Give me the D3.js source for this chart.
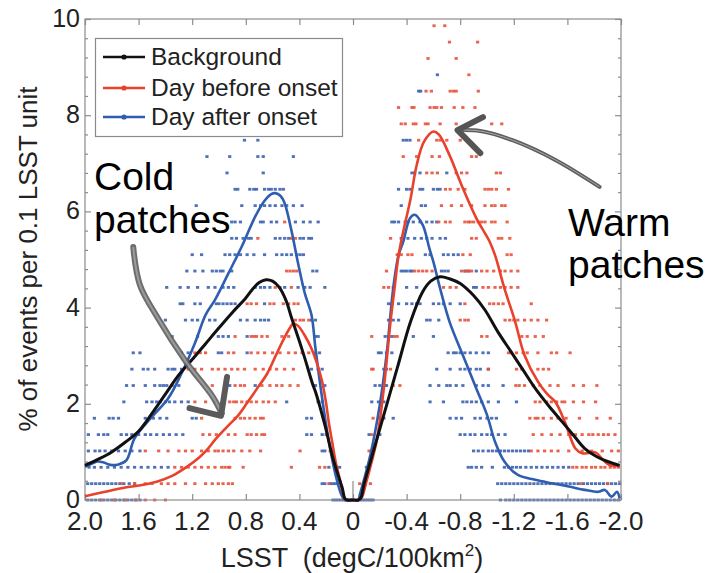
<!DOCTYPE html>
<html><head><meta charset="utf-8">
<script src="https://cdn.jsdelivr.net/npm/d3@7"></script>
<style>
body{margin:0;background:#fff;}
text{font-family:"Liberation Sans",Arial,sans-serif;fill:#222;}
</style></head>
<body><svg id="chart" width="715" height="573"></svg>
<script>
// ---------------- DATA ----------------
const xTicks = [2.0,1.6,1.2,0.8,0.4,0,-0.4,-0.8,-1.2,-1.6,-2.0];
const xTickLabels = ["2.0","1.6","1.2","0.8","0.4","0","-0.4","-0.8","-1.2","-1.6","-2.0"];
const yTicks = [0,2,4,6,8,10];
const yTickLabels = ["0","2","4","6","8","10"];
const yMinorTicks = [0.4,0.8,1.2,1.6,2.4,2.8,3.2,3.6,4.4,4.8,5.2,5.6,6.4,6.8,7.2,7.6,8.4,8.8,9.2,9.6];
const seriesNames = ["Background","Day before onset","Day after onset"];
const seriesColors = ["#111111","#e8412c","#2f5db0"];

// Background curve
const bgX = [2.0,1.9,1.8,1.7,1.6,1.5,1.4,1.3,1.2,1.1,1.0,0.9,0.8,0.75,0.7,0.65,0.6,0.55,0.5,0.46,0.4,0.36,0.3,0.28,0.21,0.15,0.1,0.08,0.06,0.04,0,-0.04,-0.06,-0.08,-0.13,-0.23,-0.33,-0.43,-0.52,-0.58,-0.65,-0.72,-0.8,-0.9,-0.985,-1.08,-1.18,-1.27,-1.36,-1.46,-1.56,-1.65,-1.73,-1.82,-1.9,-1.99];
const bgY = [0.72,0.85,1.0,1.2,1.43,1.8,2.2,2.6,2.92,3.25,3.58,3.9,4.2,4.38,4.52,4.58,4.55,4.42,4.15,3.8,3.3,2.95,2.4,2.25,1.56,0.87,0.42,0.25,0.03,0,0,0,0.05,0.3,0.8,1.77,2.74,3.71,4.33,4.55,4.64,4.6,4.5,4.25,3.95,3.5,3.08,2.7,2.32,1.96,1.63,1.33,1.07,0.9,0.8,0.72];
// Day before onset curve
const redX = [2.0,1.85,1.7,1.6,1.465,1.35,1.24,1.15,1.09,1.03,0.94,0.86,0.79,0.72,0.64,0.58,0.52,0.47,0.445,0.41,0.36,0.31,0.27,0.23,0.2,0.18,0.155,0.13,0.1,0.08,0.06,0.04,0,-0.04,-0.065,-0.1,-0.14,-0.18,-0.23,-0.28,-0.31,-0.34,-0.375,-0.43,-0.475,-0.53,-0.6,-0.64,-0.72,-0.82,-0.92,-1.02,-1.06,-1.13,-1.21,-1.28,-1.38,-1.45,-1.51,-1.58,-1.66,-1.71,-1.76,-1.81,-1.86,-1.91,-1.99];
const redY = [0.08,0.17,0.26,0.3,0.38,0.5,0.69,0.88,1.04,1.25,1.52,1.75,2.02,2.3,2.63,2.98,3.33,3.58,3.67,3.62,3.42,3.15,2.85,2.46,2.0,1.6,1.2,0.8,0.45,0.2,0.02,0,0,0,0.05,0.38,0.8,1.28,2.32,3.71,4.4,5.09,5.58,6.27,6.96,7.45,7.66,7.6,7.17,6.48,5.86,5.37,5.09,4.4,3.71,3.01,2.46,2.2,2.04,1.63,1.07,0.97,0.98,0.99,0.85,0.73,0.71];
// Day after onset curve
const blueX = [2.0,1.95,1.91,1.86,1.81,1.75,1.69,1.63,1.5,1.38,1.28,1.18,1.1,1.03,0.93,0.83,0.73,0.66,0.61,0.58,0.54,0.51,0.46,0.41,0.36,0.31,0.28,0.23,0.18,0.13,0.085,0.06,0,-0.04,-0.05,-0.13,-0.2,-0.25,-0.3,-0.34,-0.375,-0.425,-0.46,-0.52,-0.57,-0.6,-0.65,-0.72,-0.82,-0.92,-1.0,-1.06,-1.13,-1.23,-1.36,-1.48,-1.61,-1.73,-1.83,-1.88,-1.93,-1.97,-1.99];
const blueY = [0.69,0.75,0.8,0.78,0.73,0.74,0.83,1.28,1.73,2.11,2.63,3.26,3.85,4.16,4.71,5.27,5.89,6.22,6.36,6.38,6.32,6.17,5.61,4.92,4.3,3.85,3.15,2.11,1.21,0.52,0.1,0,0,0,0.1,0.94,1.98,3.01,4.4,5.09,5.37,5.86,5.93,5.72,5.23,4.95,4.4,3.71,3.01,2.32,1.77,1.21,0.8,0.52,0.42,0.35,0.28,0.21,0.17,0.21,0.07,0.17,0.03];

// Scatter levels (% values of the quantised individual-event histograms)
const dotLevels = [0,0.34,0.68,1.02,1.36,1.70,2.04,2.38,2.72,3.06,3.40,3.74,4.08,4.42,4.76,5.10,5.44,5.78,6.12,6.46,6.80,7.14,7.48,7.82,8.16,8.50,8.84,9.18,9.52,9.86];
// LSST positions of the blue (day after onset) dots, one string per level
const blueDotRows = [
"1.98 1.95 1.92 1.89 1.86 1.83 1.80 1.77 1.74 1.71 1.68 1.65 1.62 1.59 0.15 0.13 0.11 0.09 0.07 0.05 0.03 0.01 -0.01 -0.03 -0.05 -0.07 -0.09 -0.11 -0.13 -0.15 -1.10 -1.14 -1.17 -1.20 -1.23 -1.26 -1.29 -1.32 -1.35 -1.38 -1.41 -1.44 -1.47 -1.50 -1.53 -1.56 -1.59 -1.62 -1.65 -1.68 -1.71 -1.74 -1.77 -1.80 -1.83 -1.86 -1.89 -1.92 -1.95 -1.98",
"1.98 1.95 1.92 1.89 1.86 1.83 1.80 1.77 1.74 1.71 1.67 1.63 0.23 0.21 0.17 0.15 0.13 -1.08 -1.11 -1.14 -1.17 -1.20 -1.23 -1.26 -1.29 -1.32 -1.35 -1.38 -1.41 -1.44 -1.47 -1.50 -1.53 -1.56 -1.59 -1.62 -1.65 -1.68 -1.72 -1.75 -1.78 -1.81 -1.84 -1.87 -1.90 -1.93 -1.96 -1.99",
"1.97 1.93 1.88 1.83 1.78 1.73 1.68 1.63 1.58 1.53 1.48 1.43 1.38 0.18 0.13 0.10 -0.10 -0.86 -0.885 -0.92 -0.96 -1.04 -1.13 -1.16 -1.19 -1.22 -1.25 -1.29 -1.33 -1.37 -1.41 -1.45 -1.49 -1.53 -1.57 -1.61",
"1.975 1.925 1.89 1.85 1.80 1.75 1.70 1.65 1.59 0.23 0.21 0.15 -0.90 -0.935 -0.97 -1.01 -1.04 -1.07 -1.10 -1.13 -1.16 -1.19 -1.22 -1.25 -1.28 -1.31",
"1.975 1.90 1.86 1.83 1.73 1.69 1.65 1.60 1.55 1.51 1.465 1.415 1.37 1.32 1.27 0.345 0.31 0.23 0.20 -0.12 -0.20 -0.80 -0.835 -0.875 -0.91 -0.96 -1.00 -1.035 -1.085 -1.135",
"1.93 1.82 1.79 1.75 1.55 1.49 1.44 1.39 1.20 1.17 0.345 0.31 0.22 -0.20 -0.23 -0.30 -0.725 -0.77 -0.81 -0.91 -0.95 -1.00 -1.035 -1.07",
"1.71 1.54 1.50 1.465 1.44 1.40 1.37 1.33 1.28 1.23 0.495 0.26 0.23 -0.14 -0.19 -0.23 -0.575 -0.675 -0.82 -0.85 -0.885 -0.92 -0.96 -1.01 -1.085 -1.22",
"1.69 1.64 1.55 1.48 1.44 1.415 1.39 1.35 1.30 0.94 0.92 0.73 0.28 0.21 -0.165 -0.20 -0.24 -0.25 -0.575 -0.64 -0.70 -0.725 -0.77 -0.82 -0.92 -0.97 -1.01 -1.12",
"1.65 1.565 1.53 1.48 1.38 1.35 1.33 1.28 0.31 0.26 0.23 -0.23 -0.25 -0.625 -0.725 -0.80 -0.835 -0.875 -0.92 -0.95 -1.01",
"1.64 1.59 1.28 1.23 1.005 0.98 0.79 0.28 0.25 -0.19 -0.21 -0.25 -0.29 -0.71 -0.75 -0.77 -0.80 -0.835 -0.875 -0.92 -0.97 -1.01",
"1.35 1.16 1.005 0.97 0.93 0.79 0.28 0.26 -0.24 -0.265 -0.29 -0.45 -0.60",
"1.40 1.25 1.20 1.16 1.07 1.03 0.84 0.79 0.73 0.69 0.66 0.63 0.31 0.28 -0.265 -0.30 -0.34 -0.55 -0.575 -0.64",
"1.29 1.27 1.18 1.14 1.02 1.00 0.97 0.94 0.91 0.88 0.66 -0.265 -0.29 -0.34 -0.40 -0.44 -0.475 -0.50 -0.60 -0.64 -0.675 -0.725 -0.80",
"1.39 1.29 1.23 1.16 1.08 1.03 0.97 0.93 0.89 0.73 0.69 0.66 0.62 0.545 0.51 0.41 0.36 0.32 0.21 -0.40 -0.475 -0.90 -0.92",
"1.24 1.18 1.12 1.05 1.02 0.99 0.97 0.905 0.30 0.27 -0.36 -0.38 -0.40 -0.425 -0.44 -0.66 -0.685 -0.71 -0.835 -0.86 -0.92",
"1.20 1.13 0.955 0.92 0.88 0.84 0.79 0.74 0.66 0.57 0.53 0.495 0.46 0.42 0.395 0.37 -0.54 -0.575 -0.675 -0.71 -0.75 -0.785",
"0.905 0.87 0.82 0.78 0.76 0.58 0.545 0.51 0.48 0.395 0.37 0.33 0.31 -0.36 -0.41 -0.46 -0.51 -0.55 -0.59 -0.65 -0.69",
"0.905 0.88 0.84 0.69 0.67 0.61 0.57 0.43 0.37 0.32 0.26 -0.29 -0.31 -0.34 -0.39 -0.41 -0.45 -0.50 -0.55 -0.59 -0.625",
"1.17 0.83 0.73 0.69 0.66 0.62 0.58 0.53 0.495 0.445 0.38 -0.36 -0.51 -0.54",
"0.88 0.86 0.77 0.74 0.72 0.66 0.63 0.61 0.58 0.545 0.52 -0.34 -0.40 -0.425 -0.50 -0.52 -0.60 -0.63 -0.65",
"0.94 0.67 -0.44 -0.46 -0.50 -0.70",
"1.09 0.92 0.71 0.67 0.445",
"0.81 0.71 -0.375 -0.40 -0.425",
"", "",
"-0.49 -0.505",
"-0.63",
"", "", ""
];
// LSST positions of the red (day before onset) dots, one string per level
const redDotRows = [
"1.88 1.78 1.70 1.62 1.55 1.48 1.40",
"1.73 1.63 1.55 1.50 1.43 1.38 1.33 1.25 1.18 1.10 1.05 1.005 0.97 0.93 0.90 0.18 -0.05 -0.09 -0.13 -1.70 -1.90",
"1.33 1.28 1.23 1.18 1.13 1.08 1.03 0.98 0.955 0.93 0.92 0.82 0.46 0.25 0.21 -1.64 -1.67 -1.71 -1.74 -1.78 -1.81 -1.85 -1.88 -1.92 -1.95 -1.98",
"1.55 1.45 1.38 1.30 1.25 1.20 1.13 1.08 1.03 1.005 0.97 0.93 0.89 0.83 0.77 0.69 0.395 0.17 -0.12 -1.33 -1.38 -1.43 -1.48 -1.53 -1.61 -1.71 -1.78 -1.86 -1.93 -1.98",
"1.12 1.07 1.02 0.93 0.88 0.79 0.76 0.72 0.68 0.66 -0.14 -1.345 -1.41 -1.48 -1.545 -1.61 -1.63 -1.66 -1.71 -1.76 -1.79 -1.83 -1.87 -1.905 -1.955",
"1.13 0.88 0.84 0.81 0.77 0.73 0.69 0.67 -0.15 -1.32 -1.36 -1.38 -1.42 -1.48 -1.53 -1.59 -1.69 -1.82 -1.92",
"1.18 1.10 1.03 0.92 0.89 0.87 0.83 0.79 0.76 0.72 0.67 0.63 0.58 -1.36 -1.395 -1.445 -1.48 -1.52 -1.56 -1.58 -1.645 -1.72 -1.81",
"1.05 0.88 0.84 0.81 0.68 0.62 0.57 0.53 0.47 0.41 -0.30 -0.35 -1.215 -1.24 -1.28 -1.345 -1.395 -1.47 -1.53 -1.645 -1.72 -1.82",
"1.23 1.18 1.13 1.05 1.005 0.955 0.905 0.86 0.81 0.73 0.67 0.62 0.57 0.51 0.445 -0.14 -0.15 -0.28 -1.01 -1.22 -1.26 -1.38 -1.42 -1.46",
"1.18 1.14 1.10 0.93 0.89 0.76 0.71 0.66 0.60 0.545 0.48 0.43 0.38 0.33 -1.16 -1.18 -1.22 -1.27 -1.30 -1.38 -1.48 -1.52 -1.62",
"0.88 0.76 0.74 0.72 0.68 0.64 0.53 0.48 -0.14 -0.31 -0.33 -0.96 -1.00 -1.26 -1.30 -1.36 -1.42",
"0.43 0.395 0.37 0.33 -0.80 -0.835 -0.86 -1.135 -1.17 -1.20 -1.23 -1.28 -1.33 -1.38 -1.445",
"0.79 0.76 0.72 0.62 0.59 0.52 0.48 0.44 0.41 -0.835 -1.02 -1.05 -1.085 -1.12 -1.33",
"0.58 0.46 -0.23 -0.265 -0.30 -0.675 -0.725 -0.77 -0.97 -1.01 -1.06 -1.10 -1.135 -1.18 -1.23",
"0.495 0.47 0.445 0.42 -0.25 -0.46 -0.49 -0.52 -0.55 -0.59 -0.81 -0.84 -0.865 -0.885 -0.96 -1.00 -1.05 -1.10 -1.135 -1.18 -1.23",
"-0.33 -0.36 -0.41 -0.44 -0.82 -0.875 -1.15 -1.18",
"0.71 0.46 0.43 -0.28 -0.885 -0.92 -1.085 -1.11 -1.17",
"0.51 -0.64 -0.69 -0.725 -0.835 -0.86 -0.875 -0.90 -0.935 -0.96 -0.985 -1.035 -1.06 -1.15",
"-0.66 -0.735 -0.81 -0.885 -0.985 -1.035 -1.06 -1.11 -1.135",
"-0.69 -0.725 -0.785 -0.835 -0.985 -1.01 -1.035 -1.07 -1.16",
"-0.55 -0.59 -0.63 -0.77 -0.81 -0.85 -1.07 -1.10",
"-0.375 -0.475 -0.59 -0.645 -0.885 -0.92",
"-0.49 -0.625 -0.65 -0.70 -0.80",
"-0.36 -0.39 -0.45 -0.47 -0.54 -0.56 -0.65 -0.77 -1.035 -1.11",
"-0.34 -0.44 -0.455 -0.575 -0.605 -0.625 -0.66 -0.755 -0.82 -0.91",
"-0.545 -0.585 -0.725 -0.75 -0.77 -0.935",
"-0.865",
"-0.56 -0.77",
"-0.72 -0.93",
"-0.605 -0.685"
];
// Annotation arrows, in data units (LSST, %)
const coldArrowShaft = [[1.64,5.26],[1.59,4.47],[1.46,3.80],[1.24,2.85],[1.045,2.14],[0.98,1.80]];
const coldArrowHead = [[0.94,2.56],[0.985,1.75],[1.22,1.91]];
const warmArrowShaft = [[-1.84,6.51],[-1.51,7.07],[-1.19,7.48],[-0.95,7.67],[-0.79,7.69]];
const warmArrowHead = [[-0.97,7.96],[-0.78,7.69],[-0.95,7.21]];

// ---------------- DRAW ----------------
const svg = d3.select("#chart");
svg.append("rect").attr("width",715).attr("height",573).attr("fill","#fff");
const x = d3.scaleLinear().domain([2,-2]).range([85,621]);
const y = d3.scaleLinear().domain([0,10]).range([500,19]);
const axisColor = "#8c8c8c";

// scatter dots
function rowsToPoints(rows){
  const pts=[];
  rows.forEach((s,k)=>{ s.split(/\s+/).filter(t=>t.length).forEach(v=>pts.push({x:+v,y:dotLevels[k]})); });
  return pts;
}
const gDots = svg.append("g");
gDots.selectAll("rect.b").data(rowsToPoints(blueDotRows)).join("rect")
  .attr("x",d=>x(d.x)-1.6).attr("y",d=>y(d.y)-1.4).attr("width",3.2).attr("height",2.8)
  .attr("fill","#3c62b3").attr("opacity",0.9);
gDots.selectAll("rect.r").data(rowsToPoints(redDotRows)).join("rect")
  .attr("x",d=>x(d.x)-1.6).attr("y",d=>y(d.y)-1.4).attr("width",3.2).attr("height",2.8)
  .attr("fill","#e8523c").attr("opacity",0.9);

// frame and ticks
svg.append("rect").attr("x",x(2)).attr("y",y(10)).attr("width",x(-2)-x(2)).attr("height",y(0)-y(10))
  .attr("fill","none").attr("stroke",axisColor).attr("stroke-width",1.2);
function styleAxis(g){ g.select(".domain").remove(); g.selectAll("line").attr("stroke",axisColor).attr("stroke-width",1.2); g.selectAll("text").remove(); }
svg.append("g").attr("transform",`translate(0,${y(0)})`).call(d3.axisBottom(x).tickValues(xTicks).tickSize(-6)).call(styleAxis);
svg.append("g").attr("transform",`translate(0,${y(10)})`).call(d3.axisTop(x).tickValues(xTicks).tickSize(-6)).call(styleAxis);
svg.append("g").attr("transform",`translate(${x(2)},0)`).call(d3.axisLeft(y).tickValues(yTicks).tickSize(-6)).call(styleAxis);
svg.append("g").attr("transform",`translate(${x(2)},0)`).call(d3.axisLeft(y).tickValues(yMinorTicks).tickSize(-3)).call(styleAxis);
svg.append("g").attr("transform",`translate(${x(-2)},0)`).call(d3.axisRight(y).tickValues(yTicks).tickSize(-6)).call(styleAxis);
svg.append("g").attr("transform",`translate(${x(-2)},0)`).call(d3.axisRight(y).tickValues(yMinorTicks).tickSize(-3)).call(styleAxis);
// zero marker
svg.append("line").attr("x1",x(0)).attr("x2",x(0)).attr("y1",y(0)).attr("y2",y(0)-19).attr("stroke",axisColor).attr("stroke-width",1.2);

// tick labels
svg.append("g").selectAll("text").data(xTicks).join("text")
  .attr("x",d=>x(d)).attr("y",y(0)+30).attr("text-anchor","middle").attr("font-size",26)
  .text((d,i)=>xTickLabels[i]);
svg.append("g").selectAll("text").data(yTicks).join("text")
  .attr("x",x(2)-5).attr("y",d=>y(d)+8).attr("text-anchor","end").attr("font-size",25)
  .text((d,i)=>yTickLabels[i]);

// axis titles
const xt = svg.append("text").attr("x",352).attr("y",567).attr("text-anchor","middle").attr("font-size",27)
  .style("white-space","pre");
xt.append("tspan").text("LSST  (degC/100km");
xt.append("tspan").attr("dy",-11).attr("font-size",17).text("2");
xt.append("tspan").attr("dy",11).text(")");
svg.append("text").attr("transform","translate(37,259) rotate(-90)").attr("text-anchor","middle")
  .attr("font-size",26).text("% of events per 0.1 LSST unit");

// curves
const line = d3.line().x(d=>x(d[0])).y(d=>y(d[1])).curve(d3.curveCatmullRom.alpha(0.5));
const curves = [d3.zip(bgX,bgY), d3.zip(redX,redY), d3.zip(blueX,blueY)];
[2,1,0].forEach(i=>{
  svg.append("path").attr("d",line(curves[i])).attr("fill","none")
    .attr("stroke",seriesColors[i]).attr("stroke-width",i===0?3:2.6).attr("stroke-linejoin","round");
});

// legend
const lg = svg.append("g");
lg.append("rect").attr("x",95.5).attr("y",38.5).attr("width",247).attr("height",98)
  .attr("fill","#fff").attr("stroke","#8a8a8a").attr("stroke-width",1.2);
const legY = [57,88,117];
seriesNames.forEach((n,i)=>{
  lg.append("line").attr("x1",103).attr("x2",145).attr("y1",legY[i]).attr("y2",legY[i])
    .attr("stroke",seriesColors[i]).attr("stroke-width",2.6);
  lg.append("circle").attr("cx",124).attr("cy",legY[i]).attr("r",2.6).attr("fill",seriesColors[i]);
  lg.append("text").attr("x",151).attr("y",legY[i]+8).attr("font-size",24.5).text(n);
});

// annotations
const aline = d3.line().x(d=>x(d[0])).y(d=>y(d[1])).curve(d3.curveCatmullRom.alpha(0.5));
const sline = d3.line().x(d=>x(d[0])).y(d=>y(d[1]));
svg.append("path").attr("d",aline(coldArrowShaft)).attr("fill","none").attr("stroke","#5e5e5e").attr("stroke-width",6).attr("stroke-linecap","round").attr("opacity",0.9);
svg.append("path").attr("d",aline(coldArrowShaft)).attr("fill","none").attr("stroke","#a8a8a8").attr("stroke-width",2).attr("opacity",0.8);
svg.append("path").attr("d",sline(coldArrowHead)).attr("fill","none").attr("stroke","#5a5a5a").attr("stroke-width",6).attr("stroke-linecap","round").attr("stroke-linejoin","round");
svg.append("path").attr("d",aline(warmArrowShaft)).attr("fill","none").attr("stroke","#5e5e5e").attr("stroke-width",4).attr("stroke-linecap","round");
svg.append("path").attr("d",aline(warmArrowShaft)).attr("fill","none").attr("stroke","#bdbdbd").attr("stroke-width",1).attr("opacity",0.8);
svg.append("path").attr("d",sline(warmArrowHead)).attr("fill","none").attr("stroke","#555").attr("stroke-width",6).attr("stroke-linecap","round").attr("stroke-linejoin","round");

const ann = [{t:"Cold",x:94,y:190},{t:"patches",x:94,y:233},{t:"Warm",x:568,y:236},{t:"patches",x:568,y:278}];
svg.append("g").selectAll("text").data(ann).join("text").attr("x",d=>d.x).attr("y",d=>d.y)
  .attr("font-size",39).attr("fill","#000").style("fill","#000").text(d=>d.t);
</script></body></html>
